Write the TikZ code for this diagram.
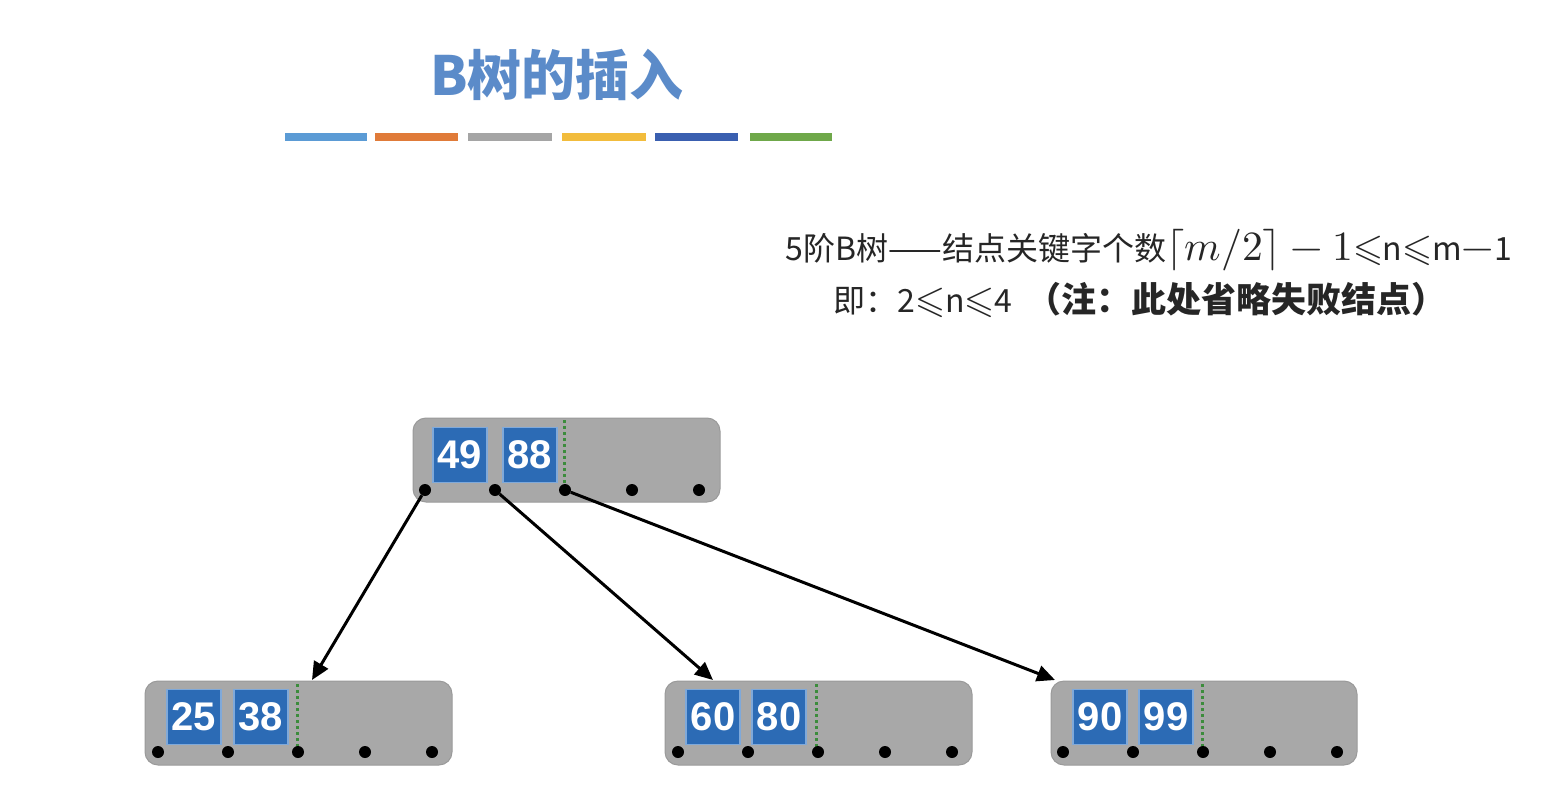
\documentclass[tikz,border=0pt]{standalone}
\usepackage{graphicx}
\usepackage{fontspec}
\usepackage{unicode-math}
\setmathfont{Latin Modern Math}
\setmainfont{Noto Sans CJK SC}
\newfontfamily\cjk{Noto Sans CJK SC}
\newfontfamily\keyfont{Liberation Sans}
\usetikzlibrary{arrows.meta}
\definecolor{titleblue}{HTML}{5B8BC9}
\definecolor{barA}{HTML}{5B9BD5}
\definecolor{barB}{HTML}{E07B39}
\definecolor{barC}{HTML}{A5A5A5}
\definecolor{barD}{HTML}{F2BC3C}
\definecolor{barE}{HTML}{3A5FB0}
\definecolor{barF}{HTML}{6FA84A}
\definecolor{nodegray}{HTML}{A8A8A8}
\definecolor{nodeedge}{HTML}{9A9A9A}
\definecolor{keyblue}{HTML}{2C6BB5}
\definecolor{keyedge}{HTML}{7FA9DA}
\definecolor{dotgreen}{HTML}{3C8C3C}
\newcommand{\mymath}[1]{\scalebox{1.3}{$#1$}}
\newcommand{\myle}{\scalebox{1.2}{$\leqslant$}}
\tikzset{
  x=1pt, y=-1pt,
  bnode/.style={fill=nodegray, draw=nodeedge, line width=1pt, rounded corners=13pt},
  keybox/.style={fill=keyblue, draw=keyedge, line width=1.5pt, minimum width=54pt, minimum height=55pt, inner sep=0pt,
    text=white, font=\keyfont\fontsize{40}{40}\selectfont\bfseries},
  ptr/.style={fill=black, circle, inner sep=0pt, minimum size=12pt},
  sepline/.style={draw=dotgreen, line width=3pt, dash pattern=on 3pt off 3pt},
  link/.style={draw=black, line width=3pt, -{Triangle[length=18pt,width=16pt]}},
  bar/.style={line width=8pt},
  desc/.style={font=\cjk\fontsize{32}{34}\selectfont, text=black!85, inner sep=0pt}
}
\begin{document}
\begin{tikzpicture}
\useasboundingbox[fill=white] (0,0) rectangle (1564,808);
% title
\node[text=titleblue, font=\cjk\fontsize{54}{58}\selectfont\bfseries] (title) at (557,75) {B树的插入};
\draw[bar, barA] (285,137) -- (367,137);
\draw[bar, barB] (375,137) -- (458,137);
\draw[bar, barC] (468,137) -- (552,137);
\draw[bar, barD] (562,137) -- (646,137);
\draw[bar, barE] (655,137) -- (738,137);
\draw[bar, barF] (750,137) -- (832,137);
% description
\node[desc] (line1) at (1149,250) {5阶B树——结点关键字个数\mymath{\lceil m/2\rceil - 1}\myle n\myle m\mymath{-}1};
\node[desc] (line2) at (1140,300) {即：2\myle n\myle 4\ \ {\fontsize{35}{36}\selectfont\bfseries（注：此处省略失败结点）}};
% root node
\draw[bnode] (413,418) rectangle (720,502);
\node[keybox] (k49) at (460,455) {49};
\node[keybox] (k88) at (530,455) {88};
\draw[sepline] (564,420) -- (564,488);
\node[ptr] (r0) at (425,490) {};
\node[ptr] (r1) at (495,490) {};
\node[ptr] (r2) at (565,490) {};
\node[ptr] (r3) at (632,490) {};
\node[ptr] (r4) at (699,490) {};
% left child
\draw[bnode] (145,681) rectangle (452,765);
\node[keybox] (k25) at (194,717) {25};
\node[keybox] (k38) at (261,717) {38};
\draw[sepline] (297,684) -- (297,750);
\node[ptr] (a0) at (158,752) {};
\node[ptr] (a1) at (228,752) {};
\node[ptr] (a2) at (298,752) {};
\node[ptr] (a3) at (365,752) {};
\node[ptr] (a4) at (432,752) {};
% middle child
\draw[bnode] (665,681) rectangle (972,765);
\node[keybox] (k60) at (713,717) {60};
\node[keybox] (k80) at (779,717) {80};
\draw[sepline] (816,684) -- (816,750);
\node[ptr] (b0) at (678,752) {};
\node[ptr] (b1) at (748,752) {};
\node[ptr] (b2) at (818,752) {};
\node[ptr] (b3) at (885,752) {};
\node[ptr] (b4) at (952,752) {};
% right child
\draw[bnode] (1051,681) rectangle (1357,765);
\node[keybox] (k90) at (1100,717) {90};
\node[keybox] (k99) at (1166,717) {99};
\draw[sepline] (1202,684) -- (1202,750);
\node[ptr] (c0) at (1063,752) {};
\node[ptr] (c1) at (1133,752) {};
\node[ptr] (c2) at (1203,752) {};
\node[ptr] (c3) at (1270,752) {};
\node[ptr] (c4) at (1337,752) {};
% targets
\coordinate (t1) at (312,680);
\coordinate (t2) at (713,680);
\coordinate (t3) at (1055,680);
\draw[link] (r0) -- (t1);
\draw[link] (r1) -- (t2);
\draw[link] (r2) -- (t3);
\end{tikzpicture}
\end{document}
